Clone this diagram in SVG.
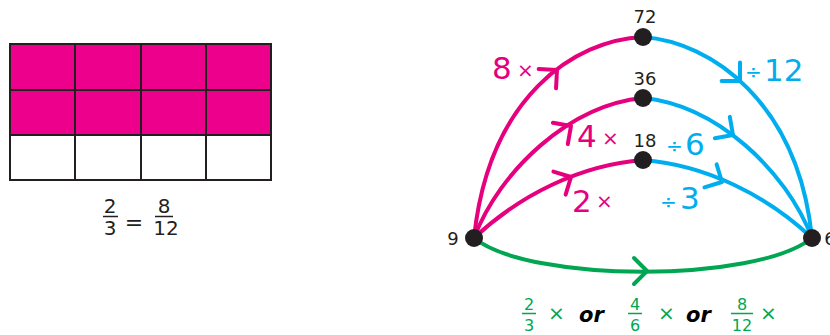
<svg xmlns="http://www.w3.org/2000/svg" xmlns:xlink="http://www.w3.org/1999/xlink" width="830" height="335" viewBox="0 0 830 335">
<style>
.pk{stroke:#E6007E;fill:none;stroke-width:4;stroke-linecap:round;stroke-linejoin:round}
.bl{stroke:#00AEEF;fill:none;stroke-width:4;stroke-linecap:round;stroke-linejoin:round}
.gr{stroke:#00A651;fill:none;stroke-width:4;stroke-linecap:round;stroke-linejoin:round}
.node{fill:#231F20}
.t{font-family:"DejaVu Sans","Liberation Sans",sans-serif}
.num{font-size:18px;fill:#231F20;text-anchor:middle}
.big{font-size:31px}
.op{font-size:20px}
.tp{fill:#E6007E}.tb{fill:#00AEEF}.tg{fill:#00A651}
.frac{font-size:16px;text-anchor:middle}
.or{font-size:21px;font-weight:bold;font-style:italic;fill:#000}
.cell{stroke:#231F20;stroke-width:2}
</style>
<defs>
<path id="chev" d="M-13,-13 L0,0 L-13,13"/>
</defs>
<g id="grid">
<rect x="10" y="44" width="261" height="91" fill="#EC008C"/>
<rect x="10" y="135" width="261" height="45" fill="#FFFFFF"/>
<g class="cell" fill="none">
<rect x="10" y="44" width="261" height="136"/>
<line x1="10" y1="90" x2="271" y2="90"/>
<line x1="10" y1="135" x2="271" y2="135"/>
<line x1="75" y1="44" x2="75" y2="180"/>
<line x1="141" y1="44" x2="141" y2="180"/>
<line x1="206" y1="44" x2="206" y2="180"/>
</g>
</g>
<g id="grid-fraction" class="t" fill="#231F20">
<text x="110" y="213" font-size="20" text-anchor="middle">2</text>
<line x1="103" y1="216.5" x2="118" y2="216.5" stroke="#231F20" stroke-width="1.5"/>
<text x="110" y="235" font-size="20" text-anchor="middle">3</text>
<text x="134" y="230" font-size="22" text-anchor="middle">=</text>
<text x="164" y="213" font-size="20" text-anchor="middle">8</text>
<line x1="155" y1="216.5" x2="173" y2="216.5" stroke="#231F20" stroke-width="1.5"/>
<text x="166" y="235" font-size="20" text-anchor="middle">12</text>
</g>
<g id="connectors">
<path class="pk" d="M474,238 C489,96 575,40 643,37"/>
<path class="bl" d="M643,37 C711,42 798,102 812,238"/>
<path class="pk" d="M474,238 C500,170 570,105 643,98"/>
<path class="bl" d="M643,98 C716,105 786,170 812,238"/>
<path class="pk" d="M474,238 C520,195 580,165 643,160"/>
<path class="bl" d="M643,160 C706,165 766,195 812,238"/>
<path class="gr" d="M474,238 C530,283 756,283 812,238"/>
<use xlink:href="#chev" class="pk" transform="translate(557,70) rotate(-42)"/>
<use xlink:href="#chev" class="pk" transform="translate(571,126) rotate(-35)"/>
<use xlink:href="#chev" class="pk" transform="translate(571,177) rotate(-28)"/>
<use xlink:href="#chev" class="bl" transform="translate(740,81) rotate(45)"/>
<use xlink:href="#chev" class="bl" transform="translate(733,135) rotate(35)"/>
<use xlink:href="#chev" class="bl" transform="translate(722,182) rotate(28)"/>
<use xlink:href="#chev" class="gr" transform="translate(647,271)"/>
</g>
<g id="n9"><circle class="node" cx="474" cy="238" r="9"/><text class="t num" x="453" y="245">9</text></g>
<g id="n6"><circle class="node" cx="812" cy="238" r="9"/><text class="t num" x="830" y="245">6</text></g>
<g id="n72"><circle class="node" cx="643" cy="37" r="9"/><text class="t num" x="645" y="23">72</text></g>
<g id="n36"><circle class="node" cx="643" cy="98" r="9"/><text class="t num" x="645" y="85">36</text></g>
<g id="n18"><circle class="node" cx="643" cy="160" r="9"/><text class="t num" x="645" y="147">18</text></g>
<g id="labels" class="t">
<text class="big tp" x="492" y="79">8</text><text class="op tp" x="517" y="77">×</text>
<text class="op tb" x="745" y="79">÷</text><text class="big tb" x="764" y="81">12</text>
<text class="big tp" x="577" y="147">4</text><text class="op tp" x="602" y="145">×</text>
<text class="op tb" x="666" y="153">÷</text><text class="big tb" x="685" y="155">6</text>
<text class="big tp" x="572" y="212">2</text><text class="op tp" x="596" y="208">×</text>
<text class="op tb" x="660" y="209">÷</text><text class="big tb" x="680" y="209">3</text>
</g>
<g id="bottom-label" class="t">
<g class="tg frac">
<text x="529" y="310">2</text><text x="529" y="331">3</text>
<text x="635" y="310">4</text><text x="635" y="331">6</text>
<text x="742" y="310">8</text><text x="742" y="331">12</text>
</g>
<g stroke="#00A651" stroke-width="1.5">
<line x1="522" y1="313.5" x2="536" y2="313.5"/>
<line x1="628" y1="313.5" x2="642" y2="313.5"/>
<line x1="731" y1="313.5" x2="753" y2="313.5"/>
</g>
<text class="op tg" x="548" y="320">×</text>
<text class="op tg" x="658" y="320">×</text>
<text class="op tg" x="760" y="320">×</text>
<text class="or" x="579" y="322">or</text>
<text class="or" x="686" y="322">or</text>
</g>
</svg>
